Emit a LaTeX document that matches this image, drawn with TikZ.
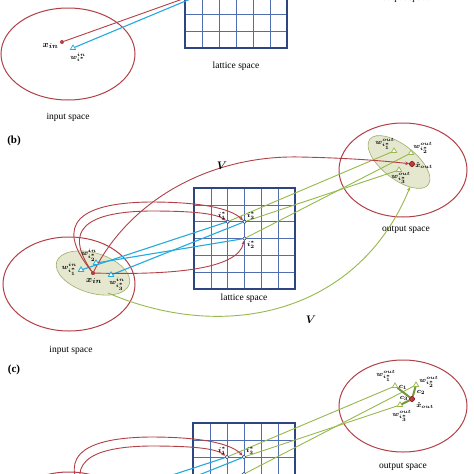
\documentclass[tikz,border=0pt]{standalone}
\usepackage{fontspec}
\setmainfont{Liberation Serif}
\usetikzlibrary{arrows.meta,shapes.geometric}
\definecolor{redc}{RGB}{178,64,70}
\definecolor{bluec}{RGB}{36,170,220}
\definecolor{latgrid}{RGB}{80,110,175}
\definecolor{latframe}{RGB}{45,70,130}
\definecolor{olivec}{RGB}{150,185,75}
\definecolor{gfill}{RGB}{229,232,206}
\definecolor{gdraw}{RGB}{160,172,105}
\newcommand\drawlattice[3]{%
  \foreach \k in {1,...,5} {
    \draw[latgrid, line width=0.6pt] ({#1+\k*#3},#2) -- ({#1+\k*#3},{#2+6*#3});
    \draw[latgrid, line width=0.6pt] (#1,{#2+\k*#3}) -- ({#1+6*#3},{#2+\k*#3});
  }
  \draw[latframe, line width=1.2pt] (#1,#2) rectangle ({#1+6*#3},{#2+6*#3});
}
\tikzset{
  spacelbl/.style={font=\fontsize{9.5}{11}\selectfont, inner sep=0},
  pnl/.style={font=\fontsize{11}{13}\selectfont\bfseries, inner sep=0},
  mlbl/.style={font=\fontsize{7.3}{8}\selectfont\boldmath, inner sep=0.5pt},
  xlbl/.style={font=\fontsize{9.5}{10}\selectfont\boldmath, inner sep=0.5pt},
  vlbl/.style={font=\fontsize{11}{12}\selectfont\boldmath, inner sep=0},
  bigell/.style={draw=redc, line width=1pt},
  smallell/.style={draw=gdraw, fill=gfill, line width=0.6pt},
  xdot/.style={circle, fill=redc, inner sep=0, minimum size=4pt},
  xhat/.style={circle, fill=redc, draw=red!60!black, inner sep=0, minimum size=5pt},
  tri/.style={regular polygon, regular polygon sides=3, draw=bluec, fill=white, line width=0.7pt, inner sep=0, minimum size=6pt},
  trio/.style={regular polygon, regular polygon sides=3, draw=olivec, fill=white, line width=0.6pt, inner sep=0, minimum size=6pt},
  lnode/.style={circle, draw=latframe, fill=white, line width=0.6pt, inner sep=0, minimum size=3.6pt},
  redln/.style={draw=redc, line width=0.9pt},
  redarr/.style={draw=redc, line width=0.9pt, -{Stealth[length=4pt,width=3.5pt]}},
  blueln/.style={draw=bluec, line width=1.1pt},
  oliveln/.style={draw=olivec, line width=0.9pt},
  olivearr/.style={draw=olivec, line width=0.9pt, -{Stealth[length=4pt,width=3.5pt]}},
  cseg/.style={draw=olivec!80!black, line width=2pt},
}
\begin{document}
\begin{tikzpicture}[x=1pt,y=-1pt]
\useasboundingbox (0,0) rectangle (474,474);
\clip (0,0) rectangle (474,474);
\fill[white] (0,0) rectangle (474,474);

% ---------------- panel (a)
\draw[bigell] (68,54) ellipse [x radius=67, y radius=46];
\drawlattice{185}{-54}{17}
\coordinate (ia) at (236,-20);
\node[xdot] (xa) at (62,42) {};
\node[tri] (wa) at (73,48) {};
\draw[redln] (xa) -- (ia);
\draw[blueln] (wa) -- (ia);
\node[xlbl, anchor=east] (xal) at (59,46) {$x_{in}$};
\node[mlbl] (wal) at (78,57) {$w^{in}_{i^*}$};
\node[spacelbl] (isa) at (68,117) {input space};
\node[spacelbl] (lsa) at (236,66) {lattice space};
\node[spacelbl, anchor=base] (osa) at (406,0) {output space};

% ---------------- panel (b)
\node[pnl] (pb) at (14,141) {(b)};
\draw[bigell] (69,284) ellipse [x radius=66, y radius=47];
\draw[smallell, rotate around={-17:(93,273)}] (93,273) ellipse [x radius=38, y radius=20];
\draw[bigell] (403,170) ellipse [x radius=64, y radius=47];
\draw[smallell, rotate around={-38:(399,162)}] (399,162) ellipse [x radius=37, y radius=17];
\drawlattice{194}{188}{16.83}

\node[xdot] (xb) at (93,273) {};
\node[tri] (w1b) at (81,270) {};
\node[tri] (w2b) at (96,263) {};
\node[tri] (w3b) at (111,275) {};
\node[lnode] (i1b) at (227.7,221.7) {};
\node[lnode] (i3b) at (244.5,221.7) {};
\node[lnode] (i2b) at (244.5,238.5) {};
\node[trio] (w1ob) at (394,151) {};
\node[trio] (w2ob) at (411,153) {};
\node[trio] (w3ob) at (399,170) {};
\node[xhat] (xhb) at (412,164) {};
\coordinate (gsb) at (108,293);
\coordinate (geb) at (410,187);

\draw[blueln] (w1b) -- (i1b);
\draw[blueln] (w3b) -- (i3b);
\draw[blueln] (w2b) -- (i2b);
\draw[oliveln] (i1b) -- (w1ob);
\draw[oliveln] (i3b) -- (w3ob);
\draw[oliveln] (i2b) -- (w2ob);
\draw[redarr] (xb) .. controls (62,235) and (62,203) .. (150,202) .. controls (200,202) and (230,208) .. (i3b);
\draw[redarr] (xb) .. controls (70,240) and (70,212) .. (150,211) .. controls (190,211) and (215,213) .. (i1b);
\draw[redarr] (xb) .. controls (170,275) and (238,270) .. (i2b);
\draw[redarr] (xb) .. controls (130,200) and (210,155) .. (300,157) .. controls (350,158) and (385,161) .. (xhb);
\draw[olivearr] (gsb) .. controls (230,345) and (360,310) .. (geb);

\node[xdot] at (xb) {};
\node[tri] at (w1b) {};
\node[tri] at (w2b) {};
\node[tri] at (w3b) {};
\node[lnode] at (i1b) {};
\node[lnode] at (i3b) {};
\node[lnode] at (i2b) {};
\node[trio] at (w1ob) {};
\node[trio] at (w2ob) {};
\node[trio] at (w3ob) {};
\node[xhat] at (xhb) {};

\node[mlbl, anchor=east] (w1bl) at (77.5,269) {$w^{in}_{i_1^*}$};
\node[mlbl] (w2bl) at (89,255) {$w^{in}_{i_2^*}$};
\node[mlbl] (w3bl) at (117,284) {$w^{in}_{i_3^*}$};
\node[xlbl] (xbl) at (94,281) {$x_{in}$};
\node[mlbl] (i1bl) at (222,216) {$i_1^*$};
\node[mlbl] (i3bl) at (251,216) {$i_3^*$};
\node[mlbl] (i2bl) at (251,245) {$i_2^*$};
\node[mlbl] (w1obl) at (385,144) {$w^{out}_{i_1^*}$};
\node[mlbl] (w2obl) at (423,148) {$w^{out}_{i_2^*}$};
\node[mlbl] (xhbl) at (424,166) {$\hat{x}_{out}$};
\node[mlbl] (w3obl) at (401,178) {$w^{out}_{i_3^*}$};
\node[vlbl] (v1) at (222,166) {$V$};
\node[vlbl] (v2) at (311,320) {$V$};
\node[spacelbl] (isb) at (71,350) {input space};
\node[spacelbl] (lsb) at (244,298) {lattice space};
\node[spacelbl] (osb) at (406,230) {output space};

% ---------------- panel (c)
\node[pnl] (pc) at (14,370) {(c)};
\draw[bigell] (69,519) ellipse [x radius=66, y radius=47];
\draw[bigell] (403,406) ellipse [x radius=64, y radius=46];
\drawlattice{193}{423}{17}
\coordinate (xc) at (93,508);
\coordinate (w1c) at (81,505);
\coordinate (w2c) at (96,498);
\coordinate (w3c) at (111,510);
\node[lnode] (i1c) at (227,457) {};
\node[lnode] (i3c) at (244,457) {};
\node[lnode] (i2c) at (244,474) {};
\node[trio] (w1oc) at (395,386) {};
\node[trio] (w2oc) at (416,385) {};
\node[trio] (w3oc) at (400,405) {};
\node[xhat] (xhc) at (412,399) {};

\draw[blueln] (w1c) -- (i1c);
\draw[blueln] (w3c) -- (i3c);
\draw[blueln] (w2c) -- (i2c);
\draw[oliveln] (i1c) -- (w1oc);
\draw[oliveln] (i3c) -- (w3oc);
\draw[oliveln] (i2c) -- (w2oc);
\draw[redarr] (xc) .. controls (62,470) and (62,438) .. (150,437) .. controls (200,437) and (230,443) .. (i3c);
\draw[redarr] (xc) .. controls (70,475) and (70,447) .. (150,446) .. controls (190,446) and (215,448) .. (i1c);
\draw[cseg] (w1oc) -- (xhc);
\draw[cseg] (w2oc) -- (xhc);
\draw[cseg] (w3oc) -- (xhc);

\node[lnode] at (i1c) {};
\node[lnode] at (i3c) {};
\node[lnode] at (i2c) {};
\node[trio] at (w1oc) {};
\node[trio] at (w2oc) {};
\node[trio] at (w3oc) {};
\node[xhat] at (xhc) {};

\node[mlbl] (i1cl) at (222,451) {$i_1^*$};
\node[mlbl] (i3cl) at (250,451) {$i_3^*$};
\node[mlbl] (w1ocl) at (386,376) {$w^{out}_{i_1^*}$};
\node[mlbl] (w2ocl) at (429,382) {$w^{out}_{i_2^*}$};
\node[mlbl] (xhcl) at (425,406) {$\hat{x}_{out}$};
\node[mlbl] (w3ocl) at (402,416) {$w^{out}_{i_3^*}$};
\node[mlbl] (c1l) at (403,387) {$c_1$};
\node[mlbl] (c2l) at (421,392) {$c_2$};
\node[mlbl] (c3l) at (404,398) {$c_3$};
\node[spacelbl] (osc) at (403,467) {output space};
\end{tikzpicture}
\end{document}
